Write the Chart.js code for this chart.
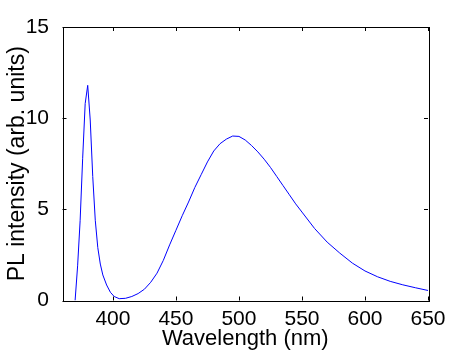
<!DOCTYPE html>
<html>
<head>
<meta charset="utf-8">
<script src="https://cdn.jsdelivr.net/npm/chart.js@4/dist/chart.umd.min.js"></script>
<style>
html,body{margin:0;padding:0;background:#fff;}
#wrap{width:474px;height:356px;}
</style>
</head>
<body>
<div id="wrap"><canvas id="c" width="474" height="356"></canvas></div>
<script>
const wavelengths = [370,372,374,376,378,380,382,384,386,388,390,392,395,398,401,405,410,415,420,425,430,435,440,445,450,455,460,465,470,475,480,485,490,495,500,505,510,515,520,525,530,535,540,545,550,560,570,580,590,600,610,620,630,640,650];
const intensity = [0,1.9,4.4,7.8,10.8,11.8,9.9,6.8,4.4,2.9,2.0,1.4,0.85,0.45,0.22,0.1,0.12,0.22,0.38,0.62,1.0,1.5,2.2,3.05,3.85,4.65,5.4,6.2,6.9,7.6,8.2,8.6,8.85,9.02,9.0,8.8,8.5,8.15,7.75,7.3,6.8,6.3,5.8,5.3,4.85,3.95,3.2,2.6,2.05,1.62,1.3,1.05,0.86,0.7,0.55];
const xTicks = [400,450,500,550,600,650];
const yTicks = [0,5,10,15];

const points = wavelengths.map((w,i)=>({x:w,y:intensity[i]}));

const boxPlugin = {
  id:'box',
  afterDatasetsDraw(chart){
    const {ctx, chartArea:a, scales:{x,y}} = chart;
    ctx.save();
    ctx.strokeStyle='#000';
    ctx.lineWidth=1;
    ctx.strokeRect(Math.round(a.left)+0.5, Math.round(a.top)+0.5, Math.round(a.right-a.left), Math.round(a.bottom-a.top));
    const L=4;
    ctx.beginPath();
    xTicks.forEach(v=>{
      const px=Math.round(x.getPixelForValue(v))+0.5;
      ctx.moveTo(px,a.bottom); ctx.lineTo(px,a.bottom-L);
      ctx.moveTo(px,a.top); ctx.lineTo(px,a.top+L);
    });
    yTicks.forEach(v=>{
      const py=Math.round(y.getPixelForValue(v))+0.5;
      ctx.moveTo(a.left,py); ctx.lineTo(a.left+L,py);
      ctx.moveTo(a.right,py); ctx.lineTo(a.right-L,py);
    });
    ctx.stroke();
    ctx.restore();
  }
};

const fam = '"Liberation Sans", Arial, Helvetica, sans-serif';
const tickFont = {family:fam, size:21};

new Chart(document.getElementById('c'), {
  type:'line',
  data:{datasets:[{data:points,borderColor:'#0000ff',borderWidth:1,pointRadius:0,tension:0,fill:false}]},
  options:{
    responsive:false,
    animation:false,
    devicePixelRatio:1,
    layout:{padding:{top:27,right:46,left:0,bottom:0}},
    plugins:{legend:{display:false},tooltip:{enabled:false}},
    scales:{
      x:{
        type:'linear',min:360,max:650,
        afterBuildTicks(s){s.ticks=xTicks.map(v=>({value:v}));},
        afterFit(s){s.height=55.5;},
        grid:{display:false},
        border:{display:false},
        ticks:{color:'#000',font:tickFont,padding:-2,maxRotation:0,autoSkip:false},
        title:{display:true,text:'Wavelength (nm)',color:'#000',font:{family:fam,size:22},padding:{top:0,bottom:4}}
      },
      y:{
        type:'linear',min:0,max:15,
        afterBuildTicks(s){s.ticks=yTicks.map(v=>({value:v}));},
        afterFit(s){s.width=62.5;},
        grid:{display:false},
        border:{display:false},
        ticks:{color:'#000',font:tickFont,padding:5.5,autoSkip:false},
        title:{display:true,text:'PL intensity (arb. units)',color:'#000',font:{family:fam,size:23},padding:{top:4,bottom:0}}
      }
    }
  },
  plugins:[boxPlugin]
});
</script>
</body>
</html>
